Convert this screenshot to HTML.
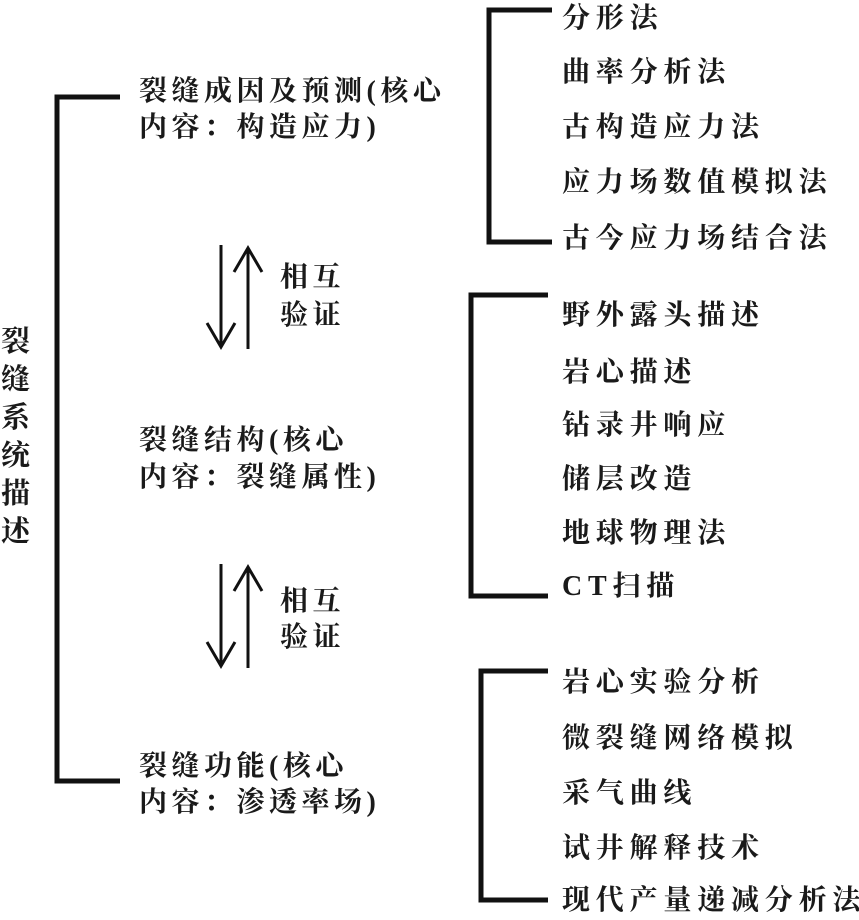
<!DOCTYPE html>
<html><head><meta charset="utf-8"><style>
html,body{margin:0;padding:0;background:#fff;}
svg text{font-family:"Liberation Serif","Noto Serif CJK SC",serif;font-weight:bold;font-size:28px;fill:#1a1a1a;letter-spacing:4.5px;}
svg text.r{letter-spacing:5.8px;}
svg text.v{font-size:29px;}
</style></head><body>
<svg width="859" height="915" viewBox="0 0 859 915" xmlns="http://www.w3.org/2000/svg">
<g fill="none" stroke="#111" stroke-width="5">
<polyline points="120,97 57,97 57,781 120,781"/>
<polyline points="552,10 489,10 489,242 552,242"/>
<polyline points="548,295 471,295 471,596 548,596"/>
<polyline points="548,671 481,671 481,900 548,900"/>
</g>
<g fill="none" stroke="#111" stroke-width="3">
<line x1="221" y1="245" x2="221" y2="345"/>
<polyline points="207,323 221,347 235,323"/>
<line x1="248" y1="349" x2="248" y2="250"/>
<polyline points="234,272 248,248 262,272"/>
<line x1="221" y1="564" x2="221" y2="664"/>
<polyline points="207,642 221,666 235,642"/>
<line x1="248" y1="668" x2="248" y2="569"/>
<polyline points="234,591 248,567 262,591"/>
</g>
<g>
<text class="v" x="1" y="351">裂</text><text class="v" x="1" y="389">缝</text><text class="v" x="1" y="427">系</text>
<text class="v" x="1" y="465">统</text><text class="v" x="1" y="503">描</text><text class="v" x="1" y="541">述</text>
<text x="139" y="100">裂缝成因及预测(核心</text>
<text x="139" y="136">内容：构造应力)</text>
<text x="280" y="286">相互</text><text x="280" y="324">验证</text>
<text x="139" y="449">裂缝结构(核心</text>
<text x="139" y="486">内容：裂缝属性)</text>
<text x="280" y="610">相互</text><text x="280" y="646">验证</text>
<text x="139" y="775">裂缝功能(核心</text>
<text x="139" y="811">内容：渗透率场)</text>
<text class="r" x="562" y="27">分形法</text>
<text class="r" x="562" y="81">曲率分析法</text>
<text class="r" x="562" y="136">古构造应力法</text>
<text class="r" x="562" y="191">应力场数值模拟法</text>
<text class="r" x="562" y="247">古今应力场结合法</text>
<text class="r" x="562" y="324">野外露头描述</text>
<text class="r" x="562" y="381">岩心描述</text>
<text class="r" x="562" y="434">钻录井响应</text>
<text class="r" x="562" y="488">储层改造</text>
<text class="r" x="562" y="542">地球物理法</text>
<text class="r" x="562" y="595">CT扫描</text>
<text class="r" x="562" y="691">岩心实验分析</text>
<text class="r" x="562" y="747">微裂缝网络模拟</text>
<text class="r" x="562" y="802">采气曲线</text>
<text class="r" x="562" y="857">试井解释技术</text>
<text class="r" x="562" y="909">现代产量递减分析法</text>
</g>
</svg>
</body></html>
